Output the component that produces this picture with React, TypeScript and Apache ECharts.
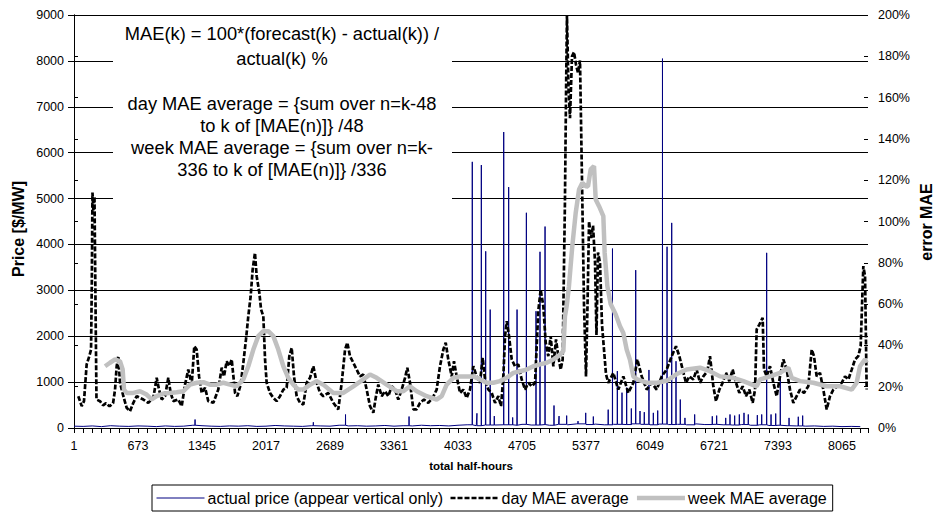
import React, { useEffect, useRef } from "react";
import * as echarts from "echarts";

// ---- axis settings (half-hour index k; axis uses k-1 so ticks fall on 1, 673, ...) ----
const X_MAX = 8337;
const X_LABEL_STEP = 672;
const X_TICK_STEP = 96;

// ---- day MAE average (%), right axis ----
const dayK = [46, 82, 106, 134, 162, 180, 188, 195, 205, 216, 227, 237, 274, 306, 337, 374, 411, 432, 449, 466, 484, 519, 554, 589, 624, 659, 694, 729, 781, 834, 869, 894, 922, 957, 991, 1016, 1044, 1096, 1132, 1167, 1201, 1237, 1264, 1289, 1314, 1342, 1377, 1411, 1464, 1516, 1552, 1576, 1604, 1632, 1657, 1692, 1716, 1751, 1779, 1807, 1831, 1856, 1877, 1901, 1919, 1947, 1965, 1989, 2007, 2024, 2059, 2094, 2129, 2164, 2199, 2234, 2262, 2287, 2311, 2339, 2374, 2409, 2444, 2479, 2514, 2549, 2584, 2619, 2671, 2724, 2776, 2812, 2847, 2871, 2899, 2934, 2969, 3004, 3039, 3074, 3109, 3144, 3172, 3196, 3232, 3267, 3301, 3337, 3372, 3406, 3442, 3477, 3501, 3529, 3564, 3599, 3634, 3676, 3721, 3767, 3809, 3844, 3879, 3904, 3931, 3967, 3991, 4019, 4054, 4089, 4124, 4159, 4194, 4229, 4264, 4292, 4317, 4352, 4387, 4422, 4456, 4485, 4509, 4527, 4545, 4569, 4597, 4632, 4666, 4702, 4737, 4772, 4807, 4842, 4876, 4901, 4929, 4954, 4981, 5006, 5034, 5062, 5086, 5111, 5132, 5140, 5156, 5167, 5177, 5193, 5209, 5230, 5251, 5272, 5293, 5314, 5335, 5356, 5377, 5393, 5409, 5430, 5451, 5472, 5487, 5503, 5524, 5545, 5566, 5587, 5611, 5664, 5716, 5769, 5821, 5874, 5916, 5962, 6014, 6067, 6119, 6172, 6224, 6277, 6322, 6357, 6392, 6427, 6462, 6504, 6539, 6574, 6609, 6651, 6679, 6714, 6742, 6777, 6812, 6847, 6882, 6917, 6952, 6987, 7022, 7057, 7092, 7127, 7152, 7169, 7197, 7232, 7246, 7275, 7309, 7344, 7379, 7414, 7449, 7484, 7519, 7554, 7589, 7624, 7666, 7711, 7747, 7771, 7799, 7834, 7869, 7904, 7939, 7974, 8016, 8062, 8097, 8132, 8167, 8202, 8236, 8261, 8289, 8307, 8324];
const dayV = [15.4, 10.6, 13, 30.8, 34.8, 38, 70, 114, 105, 112, 60, 13.8, 13, 11, 12, 10.5, 12, 18.6, 29.9, 34.8, 22, 15.4, 9.8, 8.1, 12.2, 15.4, 14.6, 13.8, 12.2, 14.6, 24.3, 18.6, 13.8, 15.4, 24.3, 17, 13, 13.8, 10.6, 21, 28.3, 21, 39.6, 38, 25, 17, 19.5, 13, 12.2, 18.6, 29.2, 25, 32.3, 30, 33.2, 17, 15.4, 21, 31.6, 42.9, 54.1, 63.8, 76.8, 84.8, 73.5, 65.5, 57.4, 54.1, 33.2, 21.9, 17, 14.6, 13, 15.4, 18.6, 19.5, 34.8, 38.8, 25, 15.4, 12.2, 11.4, 21.9, 24.3, 29.9, 21.9, 17, 15.4, 17, 12.2, 9, 21.9, 38, 41.3, 34.8, 31.6, 28.3, 25, 25.9, 18.6, 10.6, 7.4, 15.4, 21, 15.4, 17.8, 15.4, 20.2, 18.6, 13.8, 18.6, 24.3, 29.2, 21.9, 9, 9, 12.2, 13.8, 12.2, 14.6, 18.6, 29.9, 38, 41.3, 33.2, 25, 32.3, 25, 17, 18.6, 14.6, 18.6, 29.9, 25, 21.9, 34, 23.5, 18.6, 17, 12.2, 15.4, 10.6, 25, 44.5, 51.7, 44.5, 33.2, 29.9, 30.8, 23.5, 18.6, 21.9, 20.2, 21.9, 56.6, 67, 59, 41.3, 34.8, 44.5, 29.9, 42.9, 34.8, 28.3, 33.2, 60, 110, 160, 200, 165, 150, 180, 182, 176, 172, 178, 120, 60, 25, 60, 100, 92, 98, 80, 45, 85, 80, 50, 38, 26, 21.9, 26.7, 18.6, 25, 17, 21.9, 33.2, 25, 18.6, 21.9, 18.6, 25, 28.3, 34.8, 39.6, 34.8, 28.3, 21.9, 25, 23.5, 28.3, 21.9, 25, 27.5, 34.8, 20.2, 13, 18.6, 21.9, 26.7, 22.7, 28.3, 21.9, 17, 20.2, 15.4, 18.6, 12.2, 18.6, 47.7, 50.1, 53.4, 28.3, 25, 29.9, 21.9, 15.4, 25, 33.2, 28.3, 18.6, 12.2, 15.4, 18.6, 17, 20.2, 38, 34.8, 25, 26.7, 18.6, 9, 15.4, 18.6, 20.2, 21.9, 25, 23.5, 28.3, 33.2, 34.8, 39.6, 78.4, 73.5, 18.6];

// ---- week MAE average (%), right axis ----
const weekK = [327, 379, 432, 484, 512, 526, 554, 624, 694, 764, 817, 869, 939, 1009, 1079, 1149, 1219, 1289, 1359, 1429, 1499, 1569, 1639, 1709, 1779, 1831, 1884, 1936, 1989, 2041, 2094, 2146, 2199, 2251, 2304, 2356, 2409, 2479, 2549, 2619, 2724, 2829, 2934, 3039, 3109, 3179, 3284, 3389, 3459, 3529, 3599, 3704, 3809, 3862, 3914, 3984, 4054, 4124, 4194, 4264, 4334, 4404, 4474, 4545, 4614, 4684, 4754, 4824, 4894, 4964, 5034, 5086, 5139, 5156, 5174, 5198, 5233, 5269, 5304, 5339, 5374, 5398, 5426, 5461, 5479, 5514, 5559, 5573, 5601, 5636, 5689, 5734, 5769, 5804, 5839, 5874, 5916, 6021, 6126, 6231, 6336, 6434, 6574, 6679, 6784, 6924, 7029, 7169, 7204, 7309, 7414, 7502, 7537, 7624, 7764, 7904, 8044, 8167, 8219, 8254, 8307, 8324];
const weekV = [29.9, 31.6, 33.2, 32.3, 28.3, 18.6, 17, 17, 17.8, 16.2, 13.8, 15.4, 16.7, 17, 17.3, 17.8, 21, 21.9, 22.2, 21, 21, 21.9, 21, 20.2, 23.5, 29.9, 38, 44.5, 46.9, 46.9, 44.5, 38, 29.9, 24.3, 21, 18.6, 18.6, 21, 22.7, 21, 17, 17, 20.2, 23.5, 25.9, 24.3, 21, 17.8, 17.8, 20.2, 17.8, 15.4, 13.8, 15.4, 21, 24.3, 25, 25, 25, 23.5, 21.9, 21.9, 22.7, 24.3, 26.7, 27.5, 28.3, 29.9, 30.8, 31.6, 33.2, 34.8, 37.2, 54.1, 59, 68.7, 88, 104.2, 115.5, 118.7, 117.1, 117, 125.2, 126.8, 110.7, 107.4, 102.6, 84.8, 68.7, 60, 55, 49.3, 46, 38, 33, 25, 23.5, 21.9, 21.9, 23, 26.3, 28.3, 29.2, 27.5, 25, 24.3, 22.7, 20.2, 23.5, 25, 26.7, 29.2, 24.3, 22.7, 21.9, 20.2, 20.2, 18.6, 21.9, 29.9, 33.2, 31.6];

// ---- actual price ($/MW), left axis ----
// low-level price sampled every 96 half-hours starting at k = 1
const baseV = [40, 35, 45, 30, 50, 40, 35, 45, 40, 30, 45, 35, 40, 60, 50, 40, 35, 45, 40, 50, 35, 40, 55, 45, 40, 35, 50, 45, 40, 60, 45, 50, 40, 45, 55, 40, 50, 45, 60, 50, 55, 45, 60, 70, 50, 65, 55, 70, 60, 80, 65, 75, 60, 80, 70, 90, 75, 85, 70, 80, 75, 90, 80, 70, 85, 75, 80, 70, 90, 75, 80, 70, 65, 75, 60, 70, 55, 60, 50, 45, 40, 45, 35, 40, 30, 35, 30, 35];
// isolated price spikes
const spikeK = [1272, 2514, 2852, 3519, 4183, 4232, 4278, 4324, 4371, 4414, 4513, 4565, 4607, 4653, 4751, 4852, 4894, 4947, 5041, 5094, 5174, 5293, 5374, 5454, 5610, 5655, 5706, 5755, 5804, 5853, 5899, 5944, 5989, 6038, 6084, 6130, 6180, 6228, 6277, 6322, 6367, 6416, 6518, 6703, 6749, 6844, 6889, 6938, 6987, 7036, 7081, 7176, 7222, 7274, 7320, 7369, 7417, 7509, 7606, 7652];
const spikeV = [185, 125, 294, 250, 5800, 320, 5730, 3850, 2580, 260, 6450, 5250, 230, 2580, 4690, 2545, 3840, 4390, 490, 260, 270, 150, 330, 250, 400, 3910, 1240, 770, 880, 425, 3440, 370, 345, 1265, 330, 380, 8050, 3950, 4470, 1455, 620, 220, 295, 255, 270, 220, 295, 270, 295, 330, 295, 280, 295, 3817, 295, 315, 1075, 220, 245, 270];

const SERIES_NAMES = ["actual price (appear vertical only)", "day MAE average", "week MAE average"];
const NOTE_LINES = [
  "MAE(k) = 100*(forecast(k) - actual(k)) /",
  "actual(k) %",
  "day MAE average = {sum over n=k-48",
  "to k of [MAE(n)]} /48",
  "week MAE average = {sum over n=k-",
  "336 to k of [MAE(n)]} /336",
];
const NOTE_Y = [33, 58, 103, 125, 147, 169];

const FONT = "'Liberation Sans', Arial, Helvetica, sans-serif";

function buildPrice(): number[][] {
  const pts: number[][] = [];
  baseV.forEach((v, i) => pts.push([1 + X_TICK_STEP * i, v]));
  spikeK.forEach((k, i) => {
    const b = baseV[Math.min(baseV.length - 1, Math.floor((k - 1) / X_TICK_STEP))];
    pts.push([k - 1, b], [k, spikeV[i]], [k + 1, b]);
  });
  pts.sort((a, b) => a[0] - b[0]);
  return pts.filter((p) => p[0] - 1 <= X_MAX).map(([k, v]) => [k - 1, v]);
}

export default function App() {
  const ref = useRef<HTMLDivElement>(null);
  useEffect(() => {
    if (!ref.current) return;
    const chart = echarts.init(ref.current, undefined, { renderer: "svg" });
    const dayData = dayK.map((k, i) => [k - 1, dayV[i]]);
    const weekData = weekK.map((k, i) => [k - 1, weekV[i]]);
    const axisLineBlack = { show: true, lineStyle: { color: "#000", width: 1 } };
    const option: any = {
      animation: false,
      backgroundColor: "#fff",
      textStyle: { fontFamily: FONT },
      grid: { left: 74, right: 69, top: 15, height: 413 },
      xAxis: [
        {
          type: "value",
          min: 0,
          max: X_MAX,
          interval: X_LABEL_STEP,
          position: "bottom",
          axisLine: axisLineBlack,
          axisTick: { show: false },
          splitLine: { show: false },
          axisLabel: {
            color: "#000",
            fontSize: 12.5,
            fontFamily: FONT,
            margin: 11,
            showMaxLabel: false,
            formatter: (v: number) => String(v + 1),
          },
        },
        {
          type: "value",
          min: 0,
          max: X_MAX,
          interval: X_TICK_STEP,
          position: "bottom",
          axisLine: { show: false },
          axisTick: { show: true, length: 5, lineStyle: { color: "#000" } },
          axisLabel: { show: false },
          splitLine: { show: false },
        },
      ],
      yAxis: [
        {
          type: "value",
          min: 0,
          max: 9000,
          interval: 1000,
          position: "left",
          axisLine: axisLineBlack,
          axisTick: { show: true, length: 6, lineStyle: { color: "#000" } },
          splitLine: { show: true, lineStyle: { color: "#000", width: 1 } },
          axisLabel: {
            color: "#000",
            fontSize: 12.5,
            fontFamily: FONT,
            margin: 10,
            formatter: (v: number) => String(v),
          },
        },
        {
          type: "value",
          min: 0,
          max: 200,
          interval: 20,
          position: "right",
          axisLine: axisLineBlack,
          axisTick: { show: true, length: 4, lineStyle: { color: "#000" } },
          splitLine: { show: false },
          axisLabel: { color: "#000", fontSize: 12.5, fontFamily: FONT, margin: 10, formatter: "{value}%" },
        },
        {
          type: "value",
          min: 0,
          max: 200,
          interval: 20,
          position: "right",
          axisLine: { show: false },
          axisTick: { show: true, inside: true, length: 4, lineStyle: { color: "#000" } },
          splitLine: { show: false },
          axisLabel: { show: false },
        },
      ],
      legend: {
        left: 152,
        top: 485,
        orient: "horizontal",
        data: SERIES_NAMES,
        itemWidth: 48,
        itemHeight: 14,
        itemGap: 6,
        padding: [5, 6, 5, 4],
        borderColor: "#000",
        borderWidth: 1,
        backgroundColor: "#fff",
        selectedMode: false,
        itemStyle: { opacity: 0 },
        textStyle: { color: "#000", fontSize: 16, fontFamily: FONT, padding: [0, 0, 0, -2] },
        lineStyle: { width: "inherit" },
      },
      graphic: [
        {
          type: "rect",
          z: 1,
          shape: { x: 113, y: 18, width: 339, height: 194 },
          style: { fill: "#fff" },
          silent: true,
        },
        ...NOTE_LINES.map((t, i) => ({
          type: "text",
          z: 1,
          x: 282,
          y: NOTE_Y[i],
          silent: true,
          style: {
            text: t,
            fill: "#000",
            font: `18.3px ${FONT}`,
            textAlign: "center",
            textVerticalAlign: "middle",
          },
        })),
        {
          type: "text",
          x: 18,
          y: 229,
          rotation: Math.PI / 2,
          silent: true,
          style: {
            text: "Price [$/MW]",
            fill: "#000",
            font: `bold 16px ${FONT}`,
            textAlign: "center",
            textVerticalAlign: "middle",
          },
        },
        {
          type: "text",
          x: 926,
          y: 222,
          rotation: Math.PI / 2,
          silent: true,
          style: {
            text: "error MAE",
            fill: "#000",
            font: `bold 16px ${FONT}`,
            textAlign: "center",
            textVerticalAlign: "middle",
          },
        },
        {
          type: "text",
          x: 471,
          y: 466,
          silent: true,
          style: {
            text: "total half-hours",
            fill: "#000",
            font: `bold 11.5px ${FONT}`,
            textAlign: "center",
            textVerticalAlign: "middle",
          },
        },
      ],
      series: [
        {
          name: SERIES_NAMES[0],
          type: "line",
          xAxisIndex: 0,
          yAxisIndex: 0,
          data: buildPrice(),
          symbol: "none",
          lineStyle: { color: "#000080", width: 1 },
          itemStyle: { color: "#000080" },
          z: 2,
        },
        {
          name: SERIES_NAMES[1],
          type: "line",
          xAxisIndex: 0,
          yAxisIndex: 1,
          data: dayData,
          symbol: "none",
          lineStyle: { color: "#000", width: 2.7, type: [5, 2] },
          itemStyle: { color: "#000" },
          z: 3,
        },
        {
          name: SERIES_NAMES[2],
          type: "line",
          xAxisIndex: 0,
          yAxisIndex: 1,
          data: weekData,
          symbol: "none",
          lineStyle: { color: "#c0c0c0", width: 4.5 },
          itemStyle: { color: "#c0c0c0" },
          z: 4,
        },
      ],
    };
    chart.setOption(option);
    return () => chart.dispose();
  }, []);
  return (
    <div
      ref={ref}
      style={{ position: "fixed", left: 0, top: 0, width: 937, height: 520, background: "#fff" }}
    />
  );
}
